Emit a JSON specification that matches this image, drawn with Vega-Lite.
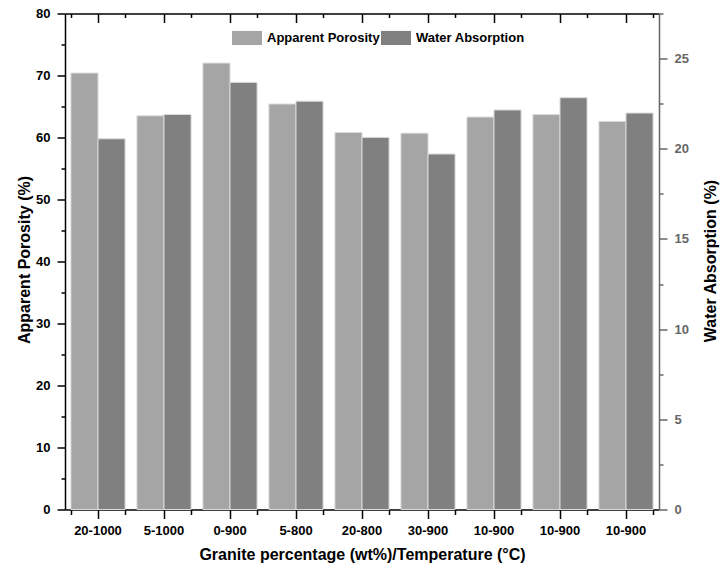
{
  "$schema": "https://vega.github.io/schema/vega-lite/v6.json",
  "width": 594,
  "height": 496,
  "autosize": {"type": "none"},
  "padding": {"left": 65, "top": 13.5, "right": 62, "bottom": 62.5},
  "background": "white",
  "config": {
    "view": {"stroke": null},
    "font": "Liberation Sans",
    "axis": {"grid": false, "labelFont": "Liberation Sans", "titleFont": "Liberation Sans", "labelFontWeight": "bold", "titleFontWeight": "bold", "labelFontSize": 13, "titleFontSize": 16, "labelColor": "#000", "titleColor": "#000"}
  },
  "data": {"values": [
    {"cond": "20-1000", "series": "Apparent Porosity", "value": 70.4},
    {"cond": "5-1000", "series": "Apparent Porosity", "value": 63.5},
    {"cond": "0-900", "series": "Apparent Porosity", "value": 72.0},
    {"cond": "5-800", "series": "Apparent Porosity", "value": 65.4},
    {"cond": "20-800", "series": "Apparent Porosity", "value": 60.8},
    {"cond": "30-900", "series": "Apparent Porosity", "value": 60.7},
    {"cond": "10-900 a", "series": "Apparent Porosity", "value": 63.3},
    {"cond": "10-900 b", "series": "Apparent Porosity", "value": 63.7},
    {"cond": "10-900 c", "series": "Apparent Porosity", "value": 62.6},
    {"cond": "20-1000", "series": "Water Absorption", "value": 20.55},
    {"cond": "5-1000", "series": "Water Absorption", "value": 21.9},
    {"cond": "0-900", "series": "Water Absorption", "value": 23.68},
    {"cond": "5-800", "series": "Water Absorption", "value": 22.64},
    {"cond": "20-800", "series": "Water Absorption", "value": 20.63},
    {"cond": "30-900", "series": "Water Absorption", "value": 19.71},
    {"cond": "10-900 a", "series": "Water Absorption", "value": 22.15},
    {"cond": "10-900 b", "series": "Water Absorption", "value": 22.83},
    {"cond": "10-900 c", "series": "Water Absorption", "value": 21.98}
  ]},
  "layer": [
    {
      "transform": [{"filter": "datum.series === 'Apparent Porosity'"}],
      "mark": {"type": "bar", "stroke": "#d9d9d9", "strokeWidth": 1},
      "encoding": {
        "x": {"field": "cond", "type": "nominal", "sort": null,
          "scale": {"paddingInner": 0.18, "paddingOuter": 0.09},
          "axis": {"orient": "bottom", "labelAngle": 0, "labelExpr": "split(datum.label, ' ')[0]", "tickSize": 9, "tickWidth": 1.5, "tickColor": "#000", "domainColor": "#000", "domainWidth": 1.5, "labelPadding": 6, "title": "Granite percentage (wt%)/Temperature (°C)", "titleX": 297, "titleY": 37, "titleBaseline": "top", "titleAlign": "center"}},
        "xOffset": {"field": "series", "type": "nominal", "scale": {"domain": ["Apparent Porosity", "Water Absorption"], "paddingInner": 0, "paddingOuter": 0}},
        "y": {"field": "value", "type": "quantitative", "scale": {"domain": [0, 80], "nice": false},
          "axis": {"orient": "left", "values": [0, 10, 20, 30, 40, 50, 60, 70, 80], "tickSize": 8, "tickWidth": 1.5, "tickColor": "#000", "domainColor": "#000", "domainWidth": 1.5, "labelPadding": 7, "title": "Apparent Porosity (%)", "titleX": -41, "titleY": 246, "titleAngle": -90, "titleAlign": "center", "titleBaseline": "middle"}},
        "color": {"field": "series", "type": "nominal",
          "scale": {"domain": ["Apparent Porosity", "Water Absorption"], "range": ["#a5a5a5", "#808080"]},
          "legend": {"title": null, "orient": "none", "legendX": 167, "legendY": 9, "direction": "horizontal", "columns": 2, "columnPadding": 1, "labelOffset": 5, "symbolType": "M-1,-0.47H1V0.47H-1Z", "symbolSize": 900, "symbolStrokeWidth": 0, "labelFont": "Liberation Sans", "labelFontWeight": "bold", "labelFontSize": 13, "labelColor": "#000"}}
      }
    },
    {
      "transform": [{"filter": "datum.series === 'Water Absorption'"}],
      "mark": {"type": "bar", "stroke": "#d9d9d9", "strokeWidth": 1, "color": "#808080"},
      "encoding": {
        "x": {"field": "cond", "type": "nominal", "sort": null,
          "axis": {"orient": "top", "labels": false, "tickSize": -9, "tickWidth": 1.5, "tickColor": "#000", "domainColor": "#000", "domainWidth": 1.5, "title": null}},
        "xOffset": {"field": "series", "type": "nominal"},
        "y": {"field": "value", "type": "quantitative", "scale": {"domain": [0, 27.5], "nice": false},
          "axis": {"orient": "right", "values": [0, 5, 10, 15, 20, 25], "tickSize": 8, "tickWidth": 1.5, "tickColor": "#666", "domainColor": "#666", "domainWidth": 1.5, "labelPadding": 7, "labelColor": "#666", "title": "Water Absorption (%)", "titleX": 51, "titleY": 247, "titleAngle": -90, "titleAlign": "center", "titleBaseline": "middle"}}
      }
    },
    {
      "transform": [{"filter": "datum.series === 'Apparent Porosity'"}],
      "mark": {"type": "bar", "opacity": 0},
      "encoding": {
        "x": {"field": "cond", "type": "nominal", "sort": null,
          "axis": {"orient": "bottom", "tickBand": "extent", "labels": false, "domain": false, "tickSize": 5, "tickWidth": 1.5, "tickColor": "#000", "title": null}},
        "y": {"field": "value", "type": "quantitative", "scale": {"domain": [0, 80], "nice": false},
          "axis": {"orient": "left", "values": [5, 15, 25, 35, 45, 55, 65, 75], "labels": false, "domain": false, "tickSize": 4, "tickWidth": 1.5, "tickColor": "#000", "title": null}}
      }
    },
    {
      "transform": [{"filter": "datum.series === 'Water Absorption'"}],
      "mark": {"type": "bar", "opacity": 0},
      "encoding": {
        "x": {"field": "cond", "type": "nominal", "sort": null,
          "axis": {"orient": "top", "tickBand": "extent", "labels": false, "domain": false, "tickSize": -4, "tickWidth": 1.5, "tickColor": "#000", "title": null}},
        "y": {"field": "value", "type": "quantitative", "scale": {"domain": [0, 27.5], "nice": false},
          "axis": {"orient": "right", "values": [2.5, 7.5, 12.5, 17.5, 22.5, 27.5], "labels": false, "domain": false, "tickSize": 4, "tickWidth": 1.5, "tickColor": "#666", "title": null}}
      }
    }
  ],
  "resolve": {"scale": {"y": "independent"}, "axis": {"x": "independent", "y": "independent"}}
}
